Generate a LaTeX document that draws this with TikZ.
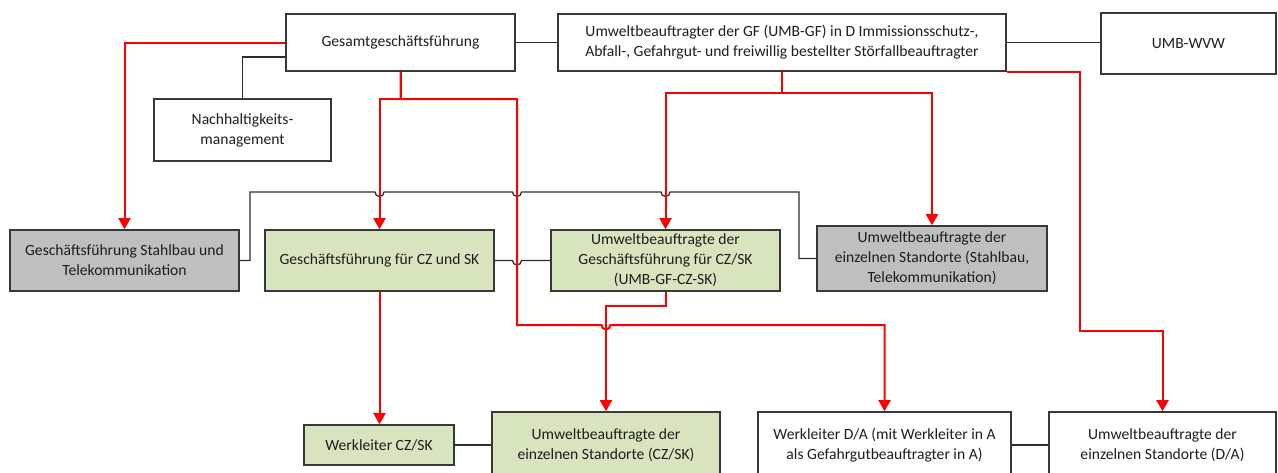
\documentclass[tikz,border=0pt]{standalone}
\usepackage{fontspec}
\setmainfont{Carlito}
\usetikzlibrary{arrows.meta,calc}
\definecolor{boxgreen}{HTML}{D7E4BD}
\definecolor{boxgray}{HTML}{BFBFBF}
\definecolor{linegray}{HTML}{383838}
\definecolor{conngray}{HTML}{2E2E2E}
\definecolor{txt}{HTML}{1E1E1E}
\definecolor{redline}{HTML}{FF0000}
\begin{document}
\begin{tikzpicture}[x=1pt,y=-1pt,
  box/.style={draw=linegray, line width=1.6pt, align=center, inner sep=2pt,
    text=txt, font=\fontsize{15.6}{20}\selectfont, fill=white},
  greenbox/.style={box, fill=boxgreen},
  graybox/.style={box, fill=boxgray},
  redarrow/.style={draw=redline, line width=2pt, -{Triangle[width=12pt,length=11pt]}},
  blk/.style={draw=conngray, line width=1.3pt}]
\useasboundingbox (0,0) rectangle (1278,472);
\clip (0,0) rectangle (1278,472);
\fill[white] (0,0) rectangle (1278,472);

% nodes
\node[box, minimum width=229pt, minimum height=57pt] (gesamt) at (400.5,42.5) {Gesamtgeschäftsführung};
\node[box, minimum width=448pt, minimum height=57pt] (umbgf) at (782,42.5) {Umweltbeauftragter der GF (UMB-GF) in D Immissionsschutz-,\\Abfall-, Gefahrgut- und freiwillig bestellter Störfallbeauftragter};
\node[box, minimum width=175pt, minimum height=61pt] (wvw) at (1188.5,43.5) {UMB-WVW};
\node[box, minimum width=177pt, minimum height=62pt] (nach) at (242.5,130) {Nachhaltigkeits-\\management};
\node[graybox, minimum width=229pt, minimum height=61pt] (gfst) at (124.5,260.5) {Geschäftsführung Stahlbau und\\Telekommunikation};
\node[greenbox, minimum width=229pt, minimum height=61pt] (gfcz) at (379.5,260.5) {Geschäftsführung für CZ und SK};
\node[greenbox, minimum width=229pt, minimum height=61pt] (umbcz) at (665.5,260.5) {Umweltbeauftragte der\\Geschäftsführung für CZ/SK\\(UMB-GF-CZ-SK)};
\node[graybox, minimum width=230pt, minimum height=65pt] (umbst) at (932,258.5) {Umweltbeauftragte der\\einzelnen Standorte (Stahlbau,\\Telekommunikation)};
\node[greenbox, minimum width=150pt, minimum height=40pt] (wlcz) at (379,445) {Werkleiter CZ/SK};
\node[greenbox, minimum width=228pt, minimum height=66pt] (umbsite) at (606,445) {Umweltbeauftragte der\\einzelnen Standorte (CZ/SK)};
\node[box, minimum width=253pt, minimum height=66pt] (wlda) at (884.5,445) {Werkleiter D/A (mit Werkleiter in A\\als Gefahrgutbeauftragter in A)};
\node[box, minimum width=227pt, minimum height=66pt] (umbda) at (1162.5,445) {Umweltbeauftragte der\\einzelnen Standorte (D/A)};

% helper coordinates
\coordinate (r1) at (517,99);
\coordinate (r1b) at (517,325);
\coordinate (r3) at (782,93);
\coordinate (r4) at (1080,331);
\coordinate (r6) at (606,306);
\coordinate (d1) at (250,192);
\coordinate (d2) at (799,192);
\coordinate (h1) at (gfcz.north |- d1);
\coordinate (h2) at (r1 |- d1);
\coordinate (h3) at (umbcz.north |- d1);
\coordinate (h4) at (umbsite.north |- r1b);
\coordinate (h5) at (r1 |- gfcz.east);

% black connectors
\draw[blk] (gesamt.east) -- (umbgf.west);
\draw[blk] (umbgf.east) -- (umbgf.east -| wvw.west);
\draw[blk] ($(gesamt.west)+(0,14.5)$) -| (nach.north);
\draw[blk] (gfst.east) -| (d1)
  -- ($(h1)+(-4.5,0)$) arc[start angle=180,end angle=360,radius=4.5pt]
  -- ($(h2)+(-4.5,0)$) arc[start angle=180,end angle=360,radius=4.5pt]
  -- ($(h3)+(-4.5,0)$) arc[start angle=180,end angle=360,radius=4.5pt]
  -- (d2) |- (umbst.west);
\draw[blk] (gfcz.east) -- ($(h5)+(-4.5,0)$) arc[start angle=180,end angle=360,radius=4.5pt] -- (umbcz.west);
\draw[blk] (wlcz.east) -- (umbsite.west);
\draw[blk] (wlda.east) -- (umbda.west);

% red connectors
\draw[redarrow] (gesamt.west) -| (gfst.north);
\draw[redarrow] (gesamt.south) |- (gfcz.north |- r1) -- (gfcz.north);
\draw[redarrow] (gesamt.south) |- (r1) -- (r1b)
  -- ($(h4)+(-4.5,0)$) arc[start angle=180,end angle=360,radius=4.5pt]
  -| (wlda.north);
\draw[redarrow] (umbgf.south) |- (umbcz.north |- r3) -- (umbcz.north);
\draw[redarrow] (umbgf.south) |- (umbst.north |- r3) -- (umbst.north);
\draw[redarrow] (umbgf.south east) -| (r4) -| (umbda.north);
\draw[redarrow] (gfcz.south) -- (gfcz.south |- wlcz.north);
\draw[redarrow] (umbcz.south) |- (r6) -- (umbsite.north);
\end{tikzpicture}
\end{document}
